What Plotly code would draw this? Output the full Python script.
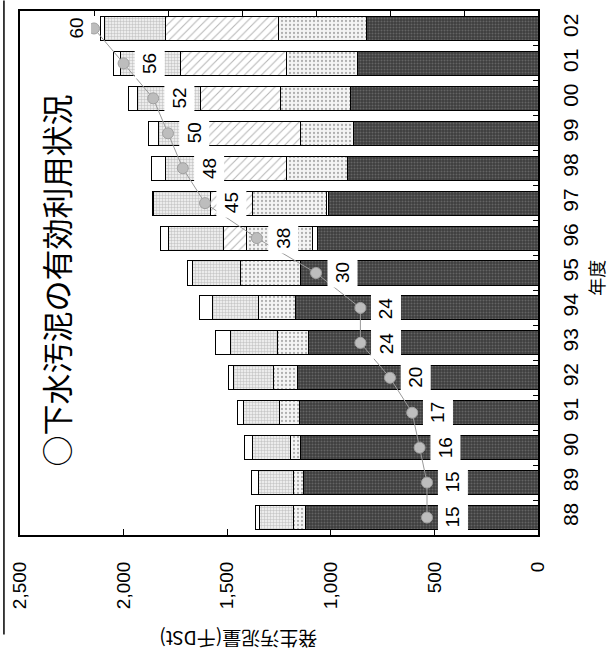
import plotly.graph_objects as go

# ---- data ----
years = ["88", "89", "90", "91", "92", "93", "94", "95", "96", "97", "98", "99", "00", "01", "02"]
landfill = [1121, 1131, 1145, 1150, 1160, 1107, 1169, 1145, 1063, 1010, 918, 890, 904, 870, 827]
extra = [0, 0, 0, 0, 0, 0, 0, 0, 24, 10, 0, 0, 0, 0, 0]
dotted = [58, 48, 48, 96, 115, 149, 179, 289, 318, 357, 295, 255, 338, 343, 424]
hatched = [0, 0, 0, 0, 0, 0, 0, 0, 111, 202, 318, 458, 385, 511, 545]
grid = [164, 169, 184, 174, 193, 227, 221, 232, 266, 275, 265, 227, 304, 289, 294]
other = [19, 33, 38, 29, 24, 72, 63, 24, 38, 5, 67, 48, 43, 34, 23]
rate = [15, 15, 16, 17, 20, 24, 24, 30, 38, 45, 48, 50, 52, 56, 60]

value_ticks = [0, 500, 1000, 1500, 2000, 2500]
value_tick_text = ["0", "500", "1,000", "1,500", "2,000", "2,500"]

title_text = "○下水汚泥の有効利用状況"
x_title = "発生汚泥量(千DSt)"
y_title = "年度"

FONT = "Liberation Sans, Arial, sans-serif"
CJK = "Noto Sans CJK JP, sans-serif"

fig = go.Figure()

series = [
    (landfill, "#3d3d3d", dict(shape=".", fgcolor="#8c8c8c", bgcolor="#3d3d3d", size=3, solidity=0.35)),
    (extra, "white", None),
    (dotted, "#f4f4f4", dict(shape=".", fgcolor="#6a6a6a", bgcolor="#f4f4f4", size=4, solidity=0.25)),
    (hatched, "white", dict(shape="/", fgcolor="#6e6e6e", bgcolor="white", size=6, solidity=0.18)),
    (grid, "#ececec", dict(shape="+", fgcolor="#8a8a8a", bgcolor="#ececec", size=3, solidity=0.3)),
    (other, "white", None),
]
for vals, col, pat in series:
    marker = dict(color=col, line=dict(color="black", width=1))
    if pat:
        marker["pattern"] = pat
    fig.add_trace(go.Bar(y=years, x=vals, orientation="h", marker=marker,
                         showlegend=False, hoverinfo="skip"))

fig.add_trace(go.Scatter(
    y=years, x=rate, xaxis="x2", yaxis="y", mode="lines+markers",
    line=dict(color="#9a9a9a", width=1),
    marker=dict(size=11, color="#bdbdbd", line=dict(color="#a0a0a0", width=1)),
    showlegend=False, hoverinfo="skip"))

annotations = []
for i, r in enumerate(rate):
    shift = -18 if i == len(years) - 1 else 26
    annotations.append(dict(
        x=r, y=i, xref="x2", yref="y", text=str(r), showarrow=False,
        xanchor="center", yanchor="middle",
        textangle=-90, xshift=shift, bgcolor="white", borderpad=4,
        font=dict(family=FONT, size=19, color="black")))

annotations.append(dict(
    x=0.069, y=0.485, xref="paper", yref="paper", text=title_text, showarrow=False,
    xanchor="center", yanchor="middle",
    textangle=-90, font=dict(family=CJK, size=31, color="black")))
annotations.append(dict(
    x=0.422, y=-0.198, xref="paper", yref="paper", text=x_title, showarrow=False,
    xanchor="center", yanchor="middle",
    textangle=180, font=dict(family=CJK, size=19, color="black")))
annotations.append(dict(
    x=1.113, y=0.49, xref="paper", yref="paper", text=y_title, showarrow=False,
    xanchor="center", yanchor="middle",
    textangle=-90, font=dict(family=CJK, size=18, color="black")))

fig.update_layout(
    width=609, height=664,
    margin=dict(l=19, r=71, t=9, b=129),
    paper_bgcolor="white", plot_bgcolor="white",
    barmode="stack", bargap=0.31,
    showlegend=False,
    annotations=annotations,
    xaxis=dict(
        range=[2500, 0], tickvals=value_ticks, ticktext=value_tick_text,
        tickangle=-90, ticks="inside", ticklen=6, tickcolor="black",
        showline=True, linecolor="black", linewidth=2, mirror=True,
        showgrid=False, zeroline=False, ticklabelstandoff=17,
        tickfont=dict(family=FONT, size=19, color="black")),
    xaxis2=dict(
        range=[70, 0], overlaying="x", side="top", anchor="y",
        showticklabels=False, ticks="inside", dtick=10, tick0=0, ticklen=5,
        tickcolor="black", showgrid=False, zeroline=False, showline=False),
    yaxis=dict(
        type="category", categoryorder="array", categoryarray=years,
        range=[-0.5, len(years) - 0.5], autorange=False,
        side="right", tickangle=-90, ticks="inside",
        tickson="boundaries", ticklen=5, tickcolor="black",
        showline=True, linecolor="black", linewidth=2, mirror=True,
        showgrid=False, ticklabelstandoff=13,
        tickfont=dict(family=FONT, size=21, color="black")),
    shapes=[dict(type="line", xref="paper", yref="paper",
                 x0=-0.031, x1=-0.031, y0=1.02, y1=-0.19,
                 line=dict(color="black", width=1.5))],
)

fig.write_html("out.html")
